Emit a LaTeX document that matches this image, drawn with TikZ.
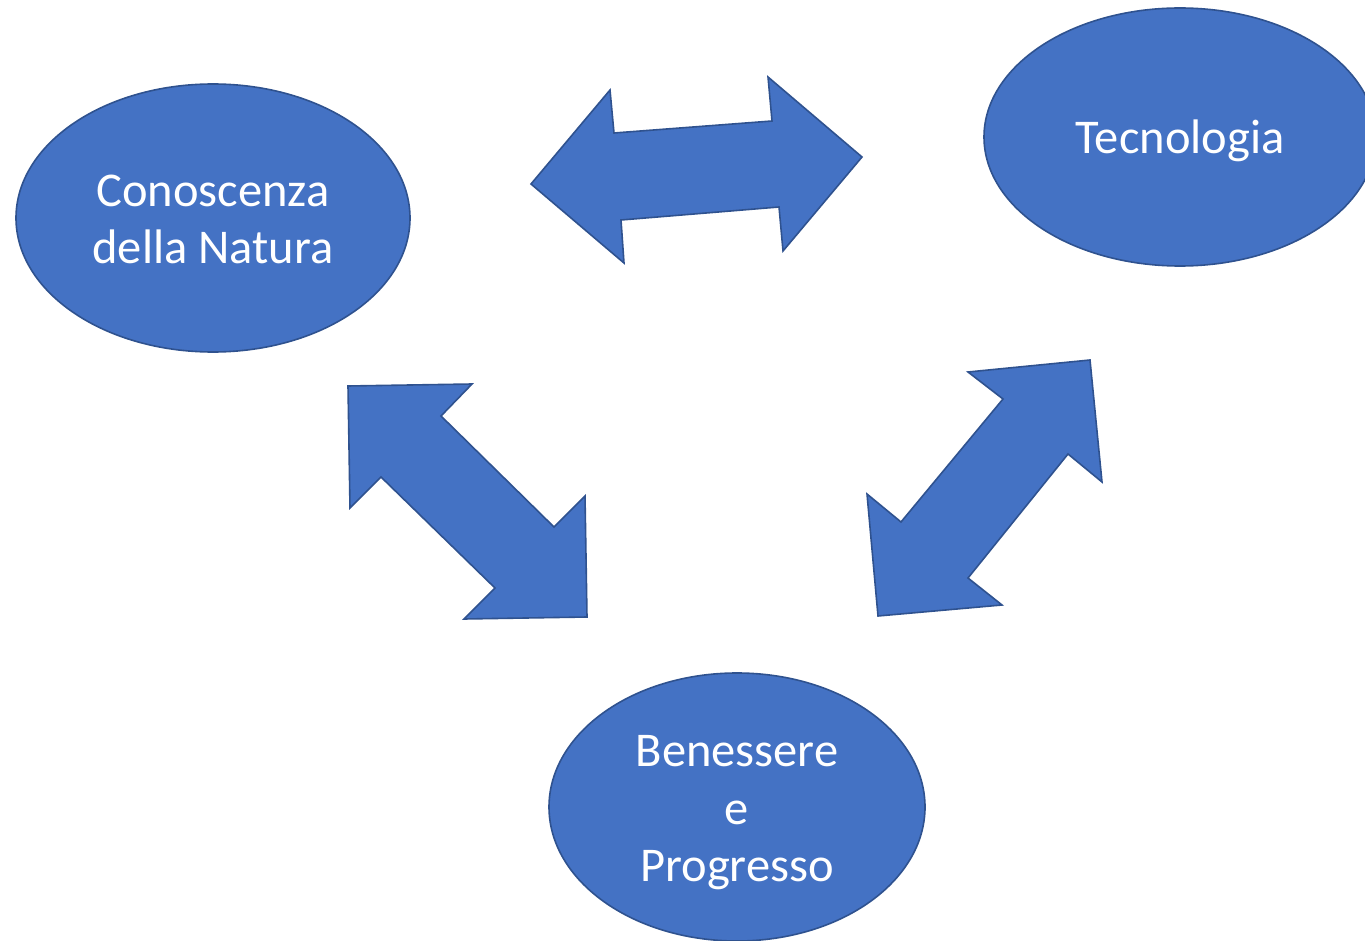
\documentclass[tikz,border=0pt]{standalone}
\usepackage{fontspec}
\setmainfont{Carlito}
\usetikzlibrary{shapes.geometric}
\definecolor{blockfill}{HTML}{4472C4}
\definecolor{blockline}{HTML}{2F528F}
\begin{document}
\begin{tikzpicture}[x=1pt,y=-1pt,
  bubble/.style={ellipse,draw=blockline,fill=blockfill,line width=1.6pt,inner sep=0pt},
  caption/.style={inner sep=0pt,text=white,align=center,
    font=\fontsize{48.5}{57.5}\selectfont},
  blockarrow/.style={draw=blockline,fill=blockfill,line width=1.6pt,line join=miter}]
\useasboundingbox (0,0) rectangle (1365,941);
\clip (0,0) rectangle (1365,941);

% topics
\node[bubble,minimum width=394pt,minimum height=268pt] (natura) at (213,218) {};
\node[bubble,minimum width=392pt,minimum height=258pt] (tecno) at (1180,137) {};
\node[bubble,minimum width=376pt,minimum height=268pt] (benessere) at (737,807) {};

\node[caption] (natura-txt) at ([yshift=-1.5pt]natura.center) {Conoscenza\\della Natura};
\node[caption] (tecno-txt) at ([yshift=-4pt]tecno.center) {Tecnologia};
\node[caption] (benessere-txt) at ([yshift=-6pt]benessere.center) {Benessere\\e\\Progresso};

% double-headed block arrows between the topics
\draw[blockarrow] (531,184) -- (610,90) -- (614,133) -- (772,121) -- (768,77)
  -- (862,157) -- (783,251) -- (779,207) -- (621,220) -- (624,263) -- cycle;
\draw[blockarrow] (348,386) -- (472,384) -- (441,416) -- (554,527) -- (585,496)
  -- (587,617) -- (464,619) -- (495,588) -- (381,477) -- (350,508) -- cycle;
\draw[blockarrow] (1090,360) -- (1102,482) -- (1068,454) -- (968,578) -- (1002,605)
  -- (878,616) -- (867,494) -- (901,522) -- (1003,399) -- (968,372) -- cycle;
\end{tikzpicture}
\end{document}
